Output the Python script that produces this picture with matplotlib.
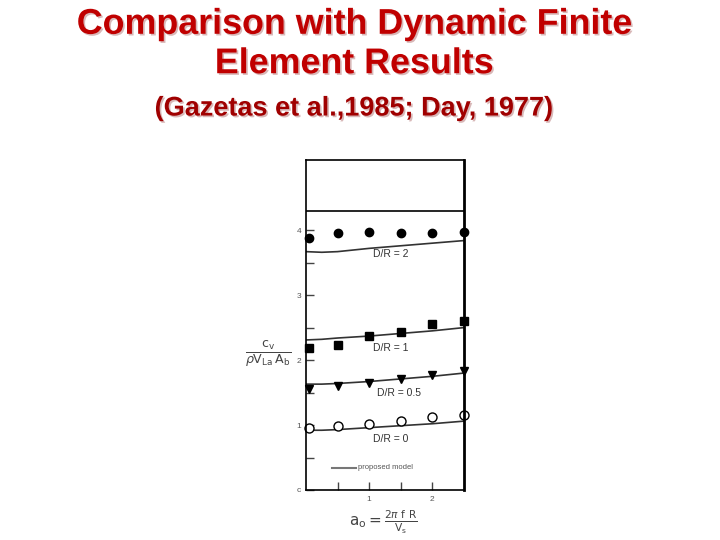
import numpy as np
import matplotlib
matplotlib.use("Agg")
import matplotlib.pyplot as plt
import matplotlib.patheffects as pe

plt.rcParams['font.family'] = ['Liberation Sans', 'DejaVu Sans']

# data
a0_pts = [0.05, 0.5, 1.0, 1.5, 2.0, 2.5]
fe_dr2 = [3.88, 3.95, 3.97, 3.96, 3.96, 3.97]
fe_dr1 = [2.18, 2.23, 2.37, 2.44, 2.55, 2.60]
fe_dr05 = [1.56, 1.60, 1.65, 1.71, 1.77, 1.83]
fe_dr0 = [0.96, 0.98, 1.02, 1.06, 1.12, 1.16]

a0_line = [0.0, 0.25, 0.5, 1.0, 1.5, 2.0, 2.5]
model_dr2 = [3.67, 3.66, 3.67, 3.72, 3.76, 3.80, 3.84]
model_dr1 = [2.31, 2.32, 2.34, 2.37, 2.41, 2.45, 2.50]
model_dr05 = [1.63, 1.63, 1.64, 1.67, 1.71, 1.75, 1.80]
model_dr0 = [0.92, 0.92, 0.93, 0.96, 0.99, 1.02, 1.06]

fig = plt.figure(figsize=(7.2, 5.4), dpi=100)

shadow = [pe.withSimplePatchShadow(offset=(1.2, -1.2), shadow_rgbFace='#d8b8b8', alpha=1)]
fig.text(0.492, 0.955, "Comparison with Dynamic Finite", ha='center', va='center',
         fontsize=25.8, fontweight='bold', color='#c00000', path_effects=shadow)
fig.text(0.492, 0.882, "Element Results", ha='center', va='center',
         fontsize=25.8, fontweight='bold', color='#c00000', path_effects=shadow)
fig.text(0.492, 0.799, "(Gazetas et al.,1985; Day, 1977)", ha='center', va='center',
         fontsize=19.5, fontweight='bold', color='#a00000', path_effects=shadow)

ax = fig.add_axes([0.425, 0.0926, 0.219, 0.611])

ax.plot(a0_line, model_dr2, color='#333333', lw=1.2)
ax.plot(a0_line, model_dr1, color='#333333', lw=1.2)
ax.plot(a0_line, model_dr05, color='#333333', lw=1.2)
ax.plot(a0_line, model_dr0, color='#333333', lw=1.2)

ax.plot(a0_pts, fe_dr2, 'o', color='black', ms=6, clip_on=False)
ax.plot(a0_pts, fe_dr1, 's', color='black', ms=6, clip_on=False)
ax.plot(a0_pts, fe_dr05, 'v', color='black', ms=6, clip_on=False)
ax.plot(a0_pts, fe_dr0, 'o', mfc='white', mec='black', mew=1, ms=6.5, clip_on=False)

ax.axhline(4.3, color='black', lw=1.2)

ax.text(1.35, 3.63, "D/R = 2", ha='center', va='center', fontsize=7.5, color='#333333')
ax.text(1.35, 2.18, "D/R = 1", ha='center', va='center', fontsize=7.5, color='#333333')
ax.text(1.48, 1.49, "D/R = 0.5", ha='center', va='center', fontsize=7.5, color='#333333')
ax.text(1.35, 0.78, "D/R = 0", ha='center', va='center', fontsize=7.5, color='#333333')

ax.plot([0.42, 0.8], [0.34, 0.34], color='#777777', lw=1.5)
ax.text(0.82, 0.34, "proposed model", ha='left', va='center', fontsize=5.5, color='#555555')

ax.set_xlim(0, 2.5)
ax.set_ylim(0, 5.08)
ax.set_xticks([0.5, 1, 1.5, 2])
ax.set_xticklabels(['', '1', '', '2'])
ax.set_yticks([0, 0.5, 1, 1.5, 2, 2.5, 3, 3.5, 4])
ax.set_yticklabels(['c', '', '1', '', '2', '', '3', '', '4'])
ax.tick_params(direction='in', length=6, width=1, colors='#444444', labelsize=6,
               labelcolor='#555555')
ax.tick_params(axis='x', pad=4)
for s in ax.spines.values():
    s.set_linewidth(1.2)
ax.spines['right'].set_linewidth(2)

fig.text(0.372, 0.343, r"$\frac{\mathrm{c_v}}{\rho \mathrm{V_{La}\,A_b}}$", ha='center',
         va='center', fontsize=13, color='#444444')
fig.text(0.532, 0.032, r"$\mathrm{a_o} = \frac{2\pi\ \mathrm{f\ R}}{\mathrm{V_s}}$",
         ha='center', va='center', fontsize=11, color='#444444')

fig.savefig("out.png", dpi=100)
